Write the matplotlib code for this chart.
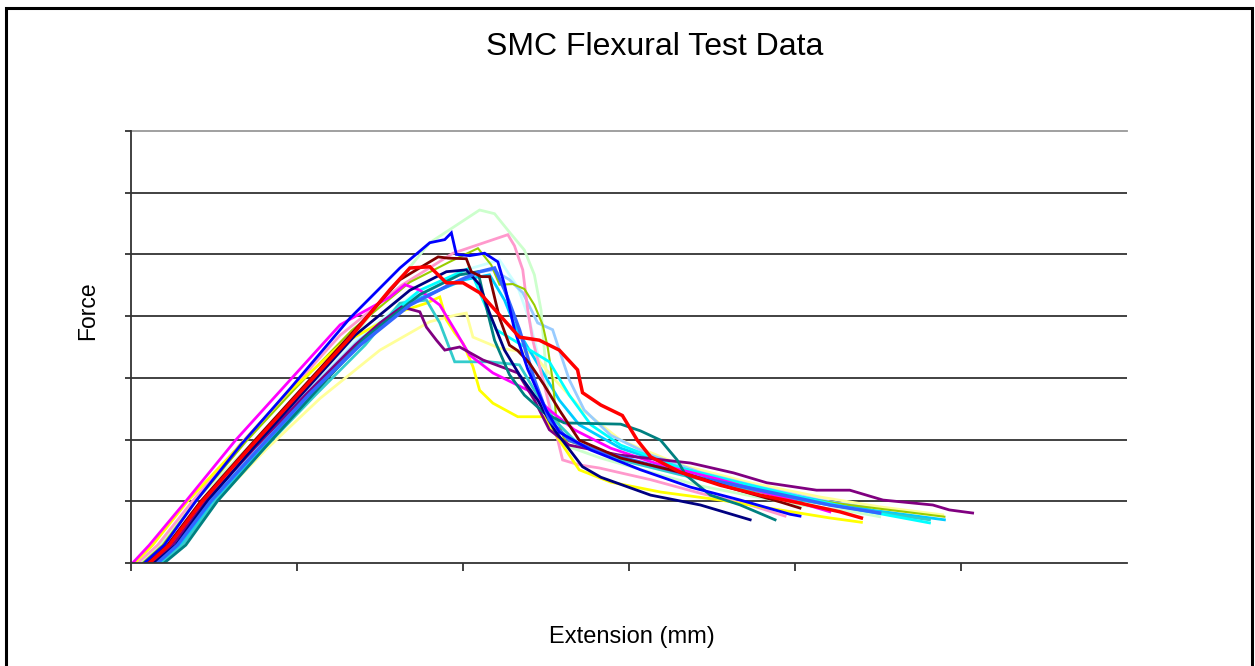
import matplotlib
matplotlib.use("Agg")
import matplotlib.pyplot as plt
from matplotlib.patches import Rectangle

plt.rcParams['font.family'] = ['Liberation Sans', 'DejaVu Sans']

# ---- data (extension in mm, force in arbitrary units) ----
pale_green_x = [0.05,0.17,0.42,0.72,1.02,1.38,1.80,2.10,2.19,2.28,2.37,2.43,2.47,2.49,2.51,2.54,2.61,2.83,3.13,3.43,3.73,4.03,4.33,4.51]
pale_green_y = [0,0.29,1.10,1.91,2.80,3.81,5.19,5.72,5.66,5.36,5.07,4.67,4.10,3.45,2.80,2.24,1.91,1.70,1.47,1.25,1.09,0.94,0.84,0.75]

light_turq_x = [0.11,0.23,0.43,0.73,1.04,1.35,1.68,1.98,2.22,2.33,2.40,2.46,2.52,2.58,2.77,3.07,3.43,3.79,4.15]
light_turq_y = [0,0.29,1.0,1.88,2.77,3.61,4.31,4.72,4.91,4.47,3.94,3.29,2.64,2.16,1.83,1.59,1.35,1.15,0.99]

light_yellow_x = [0.17,0.30,0.51,0.81,1.14,1.50,1.80,1.96,2.02,2.06,2.22,2.42,2.54,2.72,2.95,3.31,3.73,4.15,4.51,4.89]
light_yellow_y = [0,0.29,1.0,1.83,2.67,3.45,3.91,4.02,4.05,3.66,3.48,3.40,3.01,2.48,1.99,1.59,1.30,1.07,0.91,0.78]

pale_blue_x = [0.14,0.27,0.46,0.76,1.06,1.36,1.68,1.98,2.18,2.28,2.36,2.45,2.54,2.58,2.64,2.73,2.89,3.13,3.43,3.79,4.15,4.45]
pale_blue_y = [0,0.29,1.0,1.88,2.77,3.58,4.26,4.67,4.75,4.59,4.38,3.89,3.78,3.45,2.97,2.48,2.07,1.75,1.47,1.23,1.02,0.89]

sky_blue_x = [0.17,0.30,0.49,0.80,1.09,1.39,1.71,2.01,2.16,2.25,2.31,2.40,2.49,2.58,2.70,2.95,3.31,3.67,4.03,4.45,4.90]
sky_blue_y = [0,0.29,1.0,1.88,2.75,3.56,4.26,4.59,4.67,4.26,3.86,3.45,3.05,2.64,2.24,1.86,1.54,1.28,1.07,0.86,0.70]

pink_x = [0.04,0.16,0.37,0.66,0.96,1.26,1.63,1.94,2.27,2.31,2.36,2.39,2.42,2.49,2.60,2.70,2.82,3.13,3.43,3.73,3.94]
pink_y = [0,0.29,1.0,1.93,2.80,3.69,4.50,5.02,5.32,5.14,4.75,4.10,3.61,2.88,1.67,1.59,1.54,1.35,1.13,0.94,0.76]

lime_x = [0.07,0.19,0.39,0.69,0.99,1.33,1.68,1.92,2.09,2.17,2.22,2.30,2.37,2.43,2.48,2.51,2.54,2.56,2.61,2.83,3.13,3.43,3.73,4.03,4.33,4.63,4.90]
lime_y = [0,0.29,1.0,1.96,2.83,3.77,4.55,4.88,5.10,4.83,4.51,4.52,4.44,4.18,3.86,3.50,2.97,2.40,2.0,1.80,1.57,1.38,1.18,1.05,0.94,0.84,0.75]

yellow_x = [0.02,0.13,0.34,0.63,0.93,1.26,1.62,1.78,1.86,1.90,1.95,2.0,2.06,2.10,2.18,2.33,2.49,2.58,2.70,2.89,3.19,3.55,3.91,4.21,4.40]
yellow_y = [0,0.29,1.0,1.83,2.72,3.53,4.07,4.21,4.31,3.94,3.73,3.56,3.18,2.80,2.59,2.37,2.37,1.99,1.51,1.31,1.15,1.02,0.86,0.73,0.66]

aqua_x = [0.19,0.31,0.51,0.81,1.11,1.41,1.62,1.78,1.86,1.90,1.95,2.16,2.34,2.43,2.55,2.70,2.95,3.31,3.67,4.03,4.39,4.81]
aqua_y = [0,0.29,1.0,1.88,2.72,3.53,4.21,4.26,3.89,3.61,3.26,3.26,3.21,2.80,2.32,1.91,1.67,1.43,1.22,1.02,0.86,0.70]

cyan_x = [0.16,0.28,0.48,0.78,1.08,1.38,1.74,2.04,2.12,2.20,2.33,2.52,2.64,2.77,2.95,3.31,3.67,4.03,4.39,4.81]
cyan_y = [0,0.29,1.0,1.88,2.77,3.61,4.42,4.78,4.26,3.78,3.57,3.26,2.72,2.24,1.91,1.54,1.30,1.07,0.86,0.65]

magenta_x = [0.01,0.11,0.33,0.63,0.96,1.26,1.56,1.65,1.74,1.86,1.95,2.04,2.18,2.39,2.52,2.67,2.89,3.19,3.55,3.91,4.21]
magenta_y = [0,0.29,1.0,1.99,2.97,3.86,4.31,4.51,4.42,4.18,3.78,3.37,3.08,2.80,2.48,2.16,1.86,1.59,1.35,1.07,0.83]

purple_x = [0.13,0.25,0.45,0.75,1.05,1.35,1.50,1.63,1.74,1.78,1.84,1.89,1.98,2.12,2.33,2.43,2.52,2.64,2.94,3.37,3.63,3.83,4.13,4.33,4.53,4.83,4.93,5.07]
purple_y = [0,0.29,1.0,1.88,2.72,3.53,3.89,4.15,4.07,3.82,3.61,3.45,3.50,3.29,3.08,2.64,2.16,1.91,1.75,1.62,1.46,1.30,1.18,1.18,1.02,0.94,0.86,0.81]

teal_x = [0.20,0.33,0.52,0.81,1.11,1.41,1.74,1.98,2.09,2.13,2.19,2.28,2.37,2.49,2.61,2.95,3.07,3.19,3.29,3.34,3.49,3.67,3.88]
teal_y = [0,0.29,1.0,1.88,2.77,3.65,4.35,4.67,4.72,4.26,3.61,3.05,2.72,2.43,2.27,2.25,2.14,1.99,1.67,1.43,1.10,0.94,0.70]

navy_x = [0.14,0.27,0.46,0.75,1.05,1.35,1.68,1.90,2.02,2.10,2.16,2.25,2.34,2.45,2.55,2.72,2.83,3.13,3.43,3.73]
navy_y = [0,0.29,1.0,1.91,2.80,3.69,4.42,4.72,4.75,4.51,4.05,3.45,3.05,2.64,2.16,1.56,1.39,1.10,0.94,0.70]

royal_blue_x = [0.16,0.28,0.48,0.78,1.08,1.38,1.68,1.92,2.10,2.19,2.25,2.34,2.43,2.52,2.64,2.83,3.13,3.43,3.79,4.21,4.51]
royal_blue_y = [0,0.29,1.0,1.88,2.75,3.53,4.18,4.51,4.72,4.78,4.43,3.78,2.97,2.32,1.99,1.80,1.59,1.38,1.18,0.94,0.81]

dark_red_x = [0.10,0.22,0.42,0.72,1.02,1.32,1.62,1.85,1.91,2.02,2.05,2.11,2.16,2.22,2.28,2.33,2.40,2.49,2.58,2.70,2.95,3.31,3.61,3.91,4.03]
dark_red_y = [0,0.29,1.0,1.91,2.80,3.69,4.59,4.96,4.94,4.93,4.72,4.64,4.64,3.97,3.53,3.44,3.24,2.88,2.48,1.99,1.70,1.47,1.22,0.99,0.89]

blue_x = [0.08,0.20,0.39,0.66,0.96,1.32,1.62,1.80,1.89,1.93,1.96,2.04,2.13,2.21,2.25,2.31,2.39,2.50,2.58,2.77,3.07,3.37,3.67,3.97,4.03]
blue_y = [0,0.29,1.0,1.91,2.83,3.97,4.78,5.19,5.24,5.35,5.0,4.98,5.02,4.88,4.51,3.78,3.14,2.48,2.12,1.83,1.51,1.23,1.02,0.79,0.76]

red_x = [0.11,0.23,0.43,0.72,1.02,1.32,1.56,1.68,1.80,1.90,2.00,2.10,2.22,2.34,2.46,2.58,2.69,2.72,2.83,2.96,3.05,3.13,3.31,3.55,3.79,4.03,4.27,4.40]
red_y = [0,0.29,1.0,1.88,2.77,3.65,4.43,4.78,4.80,4.54,4.54,4.38,4.02,3.66,3.61,3.45,3.13,2.76,2.56,2.39,1.99,1.72,1.47,1.26,1.10,0.97,0.83,0.73]

series = [
    (pale_green_x, pale_green_y, '#CCFFCC', 2.0),
    (light_turq_x, light_turq_y, '#CCFFFF', 2.0),
    (light_yellow_x, light_yellow_y, '#FFFF99', 2.0),
    (pale_blue_x, pale_blue_y, '#99CCFF', 2.0),
    (sky_blue_x, sky_blue_y, '#00CCFF', 2.0),
    (pink_x, pink_y, '#FF99CC', 2.0),
    (lime_x, lime_y, '#99CC00', 1.5),
    (yellow_x, yellow_y, '#FFFF00', 2.0),
    (aqua_x, aqua_y, '#33CCCC', 2.0),
    (cyan_x, cyan_y, '#00FFFF', 2.0),
    (magenta_x, magenta_y, '#FF00FF', 2.0),
    (purple_x, purple_y, '#800080', 2.0),
    (teal_x, teal_y, '#008080', 2.0),
    (navy_x, navy_y, '#000080', 2.0),
    (royal_blue_x, royal_blue_y, '#3366FF', 2.5),
    (dark_red_x, dark_red_y, '#800000', 2.0),
    (blue_x, blue_y, '#0000FF', 2.0),
    (red_x, red_y, '#FF0000', 2.5),
]

fig = plt.figure(figsize=(12.55, 6.66), dpi=100)
ax = fig.add_axes([131/1255, 1-563/666, 996/1255, 432/666])

for y in range(1, 7):
    ax.axhline(y, color='#333333', lw=1.3, zorder=1)
ax.axhline(7, color='#999999', lw=1.3, zorder=1, clip_on=False)

for xs, ys, c, lw in series:
    ax.plot(xs, ys, color=c, lw=lw, zorder=2, solid_joinstyle='miter')

ax.set_xlim(0, 6)
ax.set_ylim(0, 7)
ax.set_xticks(range(0, 6))
ax.set_yticks(range(0, 8))
ax.set_xticklabels([])
ax.set_yticklabels([])
ax.tick_params(axis='x', direction='out', length=6, width=1.3, color='#333333')
ax.tick_params(axis='y', direction='out', length=4, width=1.3, color='#333333')
for s in ['top', 'right']:
    ax.spines[s].set_visible(False)
for s in ['left', 'bottom']:
    ax.spines[s].set_color('#333333')
    ax.spines[s].set_linewidth(1.3)

fig.text(655/1255, 1-47/666, 'SMC Flexural Test Data', ha='center', va='center', fontsize=23)
fig.text(88/1255, 1-311/666, 'Force', ha='center', va='center', rotation=90, fontsize=16.5)
fig.text(632/1255, 1-637/666, 'Extension (mm)', ha='center', va='center', fontsize=17)

fig.patches.append(Rectangle((6/1255, -0.05), (1252-6)/1255, 1.05 - 8/666,
                             transform=fig.transFigure, fill=False, edgecolor='black', lw=2.2))

fig.savefig('out.png', dpi=100)
